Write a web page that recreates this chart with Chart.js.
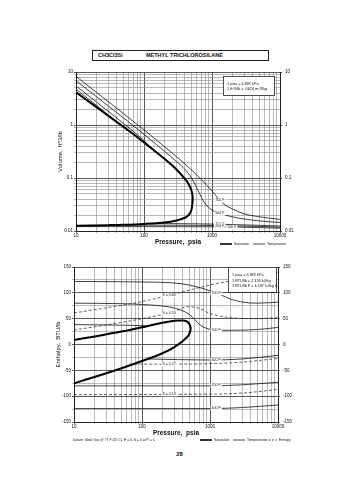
<!DOCTYPE html>
<html><head><meta charset="utf-8">
<script src="https://cdn.jsdelivr.net/npm/chart.js@4.4.1/dist/chart.umd.min.js"></script>
<style>
html,body{margin:0;padding:0;background:#fff;width:355px;height:480px;overflow:hidden;font-family:Arial,"Liberation Sans",sans-serif;color:#111}
#title{position:absolute;left:92px;top:50px;width:175px;height:9px;border:1px solid #222;font-size:5.5px;font-weight:bold;line-height:9px}
#title span{position:absolute;top:0}
#page{position:absolute;left:0;top:451px;width:355px;text-align:center;font-size:6px;font-weight:bold;padding-left:2px}
canvas{position:absolute;left:0}
</style></head><body>
<div id="title"><span style="left:5px">CH3Cl3Si</span><span style="left:53px">METHYL TRICHLOROSILANE</span></div>
<canvas id="c1" width="355" height="192" style="top:60px"></canvas>
<canvas id="c2" width="355" height="190" style="top:255px"></canvas>
<div id="page">28</div>
<script>
// ---------- shared axis ticks ----------
const pressureTicks = [10, 100, 1000, 10000];
const volumeTicks = [0.01, 0.1, 1, 10];
const enthalpyTicks = [-150, -100, -50, 0, 50, 100, 150];

// ---------- TOP PANEL: volume (ft^3/lb) vs pressure (psia) ----------
const satVapP = [10, 20, 30, 50, 70, 100, 150, 200, 300, 400, 450, 490, 510, 520];
const satVapV = [4.13, 2.17, 1.49, 0.92, 0.67, 0.47, 0.31, 0.23, 0.145, 0.096, 0.078, 0.062, 0.052, 0.043];
const satLiqP = [520, 510, 490, 450, 400, 300, 200, 100, 50, 30, 10];
const satLiqV = [0.043, 0.029, 0.0235, 0.0198, 0.0178, 0.0158, 0.0145, 0.0136, 0.0131, 0.0129, 0.0126];

const t700P = [10, 20, 50, 100, 200, 300, 500, 700, 1000, 1300, 1500, 2000, 3000, 5000, 10000];
const t700V = [8.3, 4.14, 1.64, 0.81, 0.39, 0.253, 0.142, 0.093, 0.057, 0.038, 0.032, 0.026, 0.021, 0.0185, 0.0166];
const t500P = [10, 20, 50, 100, 200, 300, 400, 500, 600, 700, 800, 1000, 1300, 2000, 3000, 5000, 10000];
const t500V = [6.85, 3.42, 1.36, 0.67, 0.32, 0.205, 0.145, 0.1, 0.064, 0.043, 0.032, 0.025, 0.0215, 0.0185, 0.0168, 0.0155, 0.0145];
const t300VapP = [10, 20, 50, 80, 100, 119];
const t300VapV = [5.44, 2.71, 1.07, 0.65, 0.51, 0.40];
const t300LiqP = [119, 200, 500, 1000, 2000, 5000, 10000];
const t300LiqV = [0.0138, 0.0138, 0.0137, 0.0135, 0.0132, 0.0128, 0.0124];
const t200VapP = [10, 15, 20, 25, 32];
const t200VapV = [4.74, 3.14, 2.35, 1.87, 1.40];
const t200LiqP = [32, 100, 500, 1000, 2000, 5000, 10000];
const t200LiqV = [0.0129, 0.0129, 0.0128, 0.0127, 0.0125, 0.0122, 0.0118];
const t100P = [10, 100, 1000, 2000, 5000, 10000];
const t100V = [0.0121, 0.0121, 0.012, 0.0119, 0.0116, 0.0113];

const topLabelText = ['700 F', '500 F', '300 F', '200 F', '100 F'];
const topLabelP = [1300, 1300, 1300, 1300, 1950];
const topLabelV = [0.038, 0.0215, 0.0135, 0.0126, 0.0118];

// ---------- BOTTOM PANEL: enthalpy (BTU/lb) vs pressure (psia) ----------
const hSatVapP = [10, 20, 50, 100, 200, 300, 400, 450, 490, 510, 520];
const hSatVapH = [9, 15.5, 25, 33.5, 42, 46, 46.5, 45, 41, 36, 31];
const hSatLiqP = [520, 510, 490, 450, 400, 300, 200, 100, 50, 20, 10];
const hSatLiqH = [31, 25, 19, 13, 7, -5, -17, -32, -46, -63, -75];

const h700P = [10, 100, 300, 500, 1000, 1500, 2000, 3000, 5000, 10000];
const h700H = [122, 121, 119, 115, 104, 95, 88, 82, 80, 82];
const h500P = [10, 50, 100, 200, 300, 400, 500, 600, 700, 900, 1230, 2000, 5000, 10000];
const h500H = [80, 79, 77.5, 74.5, 70.5, 65, 58, 48, 39, 31, 28, 27.5, 29, 33];
const h300VapP = [10, 50, 100, 119];
const h300VapH = [38.5, 37.5, 36.5, 36];
const h300LiqP = [119, 1000, 3000, 10000];
const h300LiqH = [-28, -30, -28, -21];
const h200P = [10, 1000, 3000, 10000];
const h200H = [-80, -80, -78, -73];
const h100P = [10, 1000, 3000, 10000];
const h100H = [-124, -124, -122, -117];

const s060P = [10, 30, 100, 300, 1000, 3000, 10000];
const s060H = [61, 71, 83, 98, 115, 128, 140];
const s050P = [10, 30, 100, 300, 460, 700, 1000, 2000, 5000, 10000];
const s050H = [28, 38, 50, 64, 73, 70, 60, 52, 50, 52];
const s027P = [65, 300, 1000, 3000, 10000];
const s027H = [-38, -38, -37, -34, -27];
const s013P = [10, 1000, 3000, 10000];
const s013H = [-97, -96, -94, -87];

const botLabelText = ['700 F', '500 F', '300 F', '200 F', '100 F', 'S = 0.60', 'S = 0.50', 'S = 0.27', 'S = 0.13'];
const botLabelP = [1230, 1230, 1230, 1230, 1230, 250, 250, 250, 250];
const botLabelH = [99, 28, -30, -79, -123, 95, 61, -38, -96];

// ---------- helpers ----------
const FONT = 'Arial, "Liberation Sans", sans-serif';
const pts = (P, V) => P.map((p, i) => ({x: p, y: V[i]}));
const isDec = v => Math.abs(Math.log10(v) - Math.round(Math.log10(v))) < 1e-9;
function logGrid(min, max) {
  const out = [];
  for (let d = min; d < max; d *= 10) for (let k = 1; k < 10; k++) out.push(+(d * k).toPrecision(3));
  out.push(max);
  return out;
}
const sat = (data) => ({data, borderColor: '#000', borderWidth: 2, pointRadius: 0, tension: 0.35, fill: false});
const iso = (data) => ({data, borderColor: '#111', borderWidth: 0.8, pointRadius: 0, cubicInterpolationMode: 'monotone', fill: false});
const ent = (data) => ({data, borderColor: '#222', borderWidth: 0.7, borderDash: [3, 2], pointRadius: 0, cubicInterpolationMode: 'monotone', fill: false});

const annot = {
  id: 'annot',
  afterDatasetsDraw(chart, args, o) {
    const {ctx} = chart;
    const xs = chart.scales.x, ys = chart.scales.y;
    ctx.save();
    ctx.font = '3.6px ' + FONT;
    ctx.textAlign = 'center'; ctx.textBaseline = 'middle';
    o.labels.forEach(l => {
      const px = xs.getPixelForValue(l.x), py = ys.getPixelForValue(l.y);
      const w = ctx.measureText(l.t).width;
      ctx.fillStyle = '#fff'; ctx.fillRect(px - w / 2 - 1, py - 2.2, w + 2, 4.4);
      ctx.fillStyle = '#111'; ctx.fillText(l.t, px, py);
    });
    const b = o.box;
    ctx.fillStyle = '#fff'; ctx.fillRect(b.x, b.y, b.w, b.h);
    ctx.strokeStyle = '#222'; ctx.lineWidth = 0.8; ctx.strokeRect(b.x + 0.5, b.y + 0.5, b.w, b.h);
    ctx.fillStyle = '#111'; ctx.textAlign = 'left'; ctx.font = '3.8px ' + FONT;
    b.lines.forEach((t, i) => ctx.fillText(t, b.x + 4, b.y + b.first + i * b.step));
    ctx.font = '3.4px ' + FONT;
    o.legend.forEach(g => {
      ctx.beginPath(); ctx.strokeStyle = '#000'; ctx.lineWidth = g.w; ctx.setLineDash(g.dash || []);
      ctx.moveTo(g.x, o.legendY); ctx.lineTo(g.x + g.len, o.legendY); ctx.stroke();
      ctx.setLineDash([]);
      ctx.fillText(g.t, g.x + g.len + 2, o.legendY);
    });
    if (o.foot) { ctx.font = '3.4px ' + FONT; ctx.fillText(o.foot.t, o.foot.x, o.legendY); }
    ctx.restore();
  }
};

function xAxis(h, titlePad) {
  return {
    type: 'logarithmic', min: 10, max: 10000, position: 'bottom',
    afterFit: s => { s.height = h; },
    afterBuildTicks: s => { s.ticks = logGrid(10, 10000).map(v => ({value: v})); },
    ticks: {autoSkip: false, maxRotation: 0, padding: 0, color: '#111', font: {size: 4.5, family: FONT},
      callback: v => pressureTicks.includes(v) ? String(v) : ''},
    grid: {color: c => (c.tick && isDec(c.tick.value)) ? '#444' : '#8a8a8a', lineWidth: c => (c.tick && isDec(c.tick.value)) ? 0.9 : 0.6, tickLength: 2},
    border: {color: '#222', width: 1},
    title: {display: true, text: 'Pressure,  psia', color: '#111', font: {size: 6.5, weight: 'bold', family: FONT}, padding: {top: 0, bottom: titlePad}}
  };
}

new Chart(document.getElementById('c1'), {
  type: 'line',
  data: {datasets: [
    sat(pts(satVapP.concat(satLiqP.slice(1)), satVapV.concat(satLiqV.slice(1)))),
    iso(pts(t700P, t700V)), iso(pts(t500P, t500V)),
    iso(pts(t300VapP, t300VapV)), iso(pts(t300LiqP, t300LiqV)),
    iso(pts(t200VapP, t200VapV)), iso(pts(t200LiqP, t200LiqV)),
    iso(pts(t100P, t100V))
  ]},
  options: {
    responsive: false, animation: false, devicePixelRatio: 1,
    layout: {padding: {top: 12, left: 0, right: 0, bottom: 0}},
    plugins: {legend: {display: false}, tooltip: {enabled: false},
      annot: {
        labels: topLabelText.map((t, i) => ({t, x: topLabelP[i], y: topLabelV[i]})),
        box: {x: 223, y: 16, w: 51, h: 19, first: 8, step: 5, lines: ['1 psia = 6.895 kPa', '1 ft^3/lb = .0624 m^3/kg']},
        legendY: 184,
        legend: [{x: 220, len: 12, w: 1.6, t: 'Saturation'}, {x: 253, len: 12, w: 0.7, t: 'Temperature'}]
      }},
    scales: {
      x: xAxis(21, 5.5),
      y: {type: 'logarithmic', min: 0.01, max: 10, position: 'left',
        afterFit: s => { s.width = 76; },
        afterBuildTicks: s => { s.ticks = logGrid(0.01, 10).map(v => ({value: v})); },
        ticks: {autoSkip: false, padding: 1, color: '#111', font: {size: 4.5, family: FONT},
          callback: v => volumeTicks.includes(v) ? String(v) : ''},
        grid: {color: c => (c.tick && isDec(c.tick.value)) ? '#444' : '#8a8a8a', lineWidth: c => (c.tick && isDec(c.tick.value)) ? 0.9 : 0.6, tickLength: 2},
        border: {color: '#222', width: 1},
        title: {display: true, text: 'Volume,  ft^3/lb', color: '#111', font: {size: 6, family: FONT}, padding: {top: 57, bottom: 0}}
      },
      y2: {type: 'logarithmic', min: 0.01, max: 10, position: 'right',
        afterFit: s => { s.width = 75; },
        afterBuildTicks: s => { s.ticks = volumeTicks.map(v => ({value: v})); },
        ticks: {autoSkip: false, padding: 3, color: '#111', font: {size: 4.5, family: FONT}, callback: v => String(v)},
        grid: {drawOnChartArea: false, tickLength: 2, color: '#555'},
        border: {color: '#222', width: 1}
      }
    }
  },
  plugins: [annot]
});

new Chart(document.getElementById('c2'), {
  type: 'line',
  data: {datasets: [
    sat(pts(hSatVapP.concat(hSatLiqP.slice(1)), hSatVapH.concat(hSatLiqH.slice(1)))),
    iso(pts(h700P, h700H)), iso(pts(h500P, h500H)),
    iso(pts(h300VapP, h300VapH)), iso(pts(h300LiqP, h300LiqH)),
    iso(pts(h200P, h200H)), iso(pts(h100P, h100H)),
    ent(pts(s060P, s060H)), ent(pts(s050P, s050H)), ent(pts(s027P, s027H)), ent(pts(s013P, s013H))
  ]},
  options: {
    responsive: false, animation: false, devicePixelRatio: 1,
    layout: {padding: {top: 12, left: 0, right: 0, bottom: 0}},
    plugins: {legend: {display: false}, tooltip: {enabled: false},
      annot: {
        labels: botLabelText.map((t, i) => ({t, x: botLabelP[i], y: botLabelH[i]})),
        box: {x: 228, y: 12, w: 48, h: 25, first: 8, step: 5.5, lines: ['1 psia = 6.895 kPa', '1 BTU/lb = 2.326 kJ/kg', '1 BTU/lb F = 4.187 kJ/kg K']},
        legendY: 185,
        legend: [{x: 200, len: 12, w: 1.6, t: 'Saturation'}, {x: 233, len: 12, w: 0.7, t: 'Temperature'}, {x: 265, len: 12, w: 0.7, dash: [2, 1.5], t: 'Entropy'}],
        foot: {x: 73, t: 'Datum: Ideal Gas @ 77 F (25 C), H = 0, S = 0 at P = 0'}
      }},
    scales: {
      x: xAxis(23, 7.5),
      y: {type: 'linear', min: -150, max: 150, position: 'left',
        afterFit: s => { s.width = 74; },
        afterBuildTicks: s => { const t = []; for (let v = -150; v <= 150; v += 25) t.push({value: v}); s.ticks = t; },
        ticks: {autoSkip: false, padding: 1, color: '#111', font: {size: 4.5, family: FONT},
          callback: v => enthalpyTicks.includes(v) ? String(v) : ''},
        grid: {color: c => (c.tick && c.tick.value % 50 === 0) ? '#444' : '#8a8a8a', lineWidth: c => (c.tick && c.tick.value % 50 === 0) ? 0.9 : 0.6, tickLength: 2},
        border: {color: '#222', width: 1},
        title: {display: true, text: 'Enthalpy,  BTU/lb', color: '#111', font: {size: 6, family: FONT}, padding: {top: 55, bottom: 0}}
      },
      y2: {type: 'linear', min: -150, max: 150, position: 'right',
        afterFit: s => { s.width = 77; },
        afterBuildTicks: s => { s.ticks = enthalpyTicks.map(v => ({value: v})); },
        ticks: {autoSkip: false, padding: 3, color: '#111', font: {size: 4.5, family: FONT}, callback: v => String(v)},
        grid: {drawOnChartArea: false, tickLength: 2, color: '#555'},
        border: {color: '#222', width: 1}
      }
    }
  },
  plugins: [annot]
});
</script>
</body></html>
